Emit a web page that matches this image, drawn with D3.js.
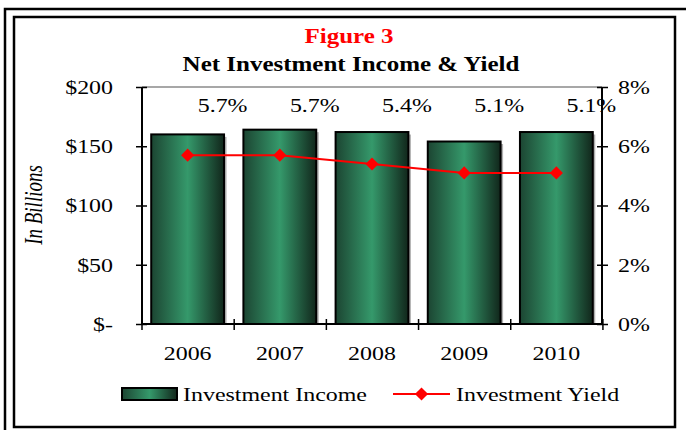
<!DOCTYPE html>
<html>
<head>
<meta charset="utf-8">
<script src="https://cdn.jsdelivr.net/npm/d3@7"></script>
<style>
  body { margin: 0; background: #fff; }
  svg { display: block; font-family: "Liberation Serif", "Times New Roman", serif; }
</style>
</head>
<body>
<div id="chart"></div>
<script>
// chart values
var years = ["2006", "2007", "2008", "2009", "2010"];
var income = [160, 164, 162, 154, 162];      // $ billions
var yieldPct = [5.7, 5.7, 5.4, 5.1, 5.1];    // percent
var incomeTicks = [0, 50, 100, 150, 200];
var yieldTicks = [0, 2, 4, 6, 8];

var W = 686, H = 430;
var sx = 1.33; // text in the original is stretched sideways

var svg = d3.select("#chart").append("svg")
    .attr("width", W).attr("height", H);

var defs = svg.append("defs");
var grad = defs.append("linearGradient").attr("id", "barGrad")
    .attr("x1", "0%").attr("x2", "100%").attr("y1", "0%").attr("y2", "0%");
grad.append("stop").attr("offset", "0%").attr("stop-color", "#1c4532");
grad.append("stop").attr("offset", "50%").attr("stop-color", "#35996b");
grad.append("stop").attr("offset", "100%").attr("stop-color", "#11261b");

// frames
svg.append("rect").attr("x", 5).attr("y", 9).attr("width", 700).attr("height", 440)
    .attr("fill", "none").attr("stroke", "#000").attr("stroke-width", 2.5);
svg.append("rect").attr("x", 14).attr("y", 17).attr("width", 661).attr("height", 410)
    .attr("fill", "#fff").attr("stroke", "#000").attr("stroke-width", 2.5);

// stretched text helper
function txt(g, x, y, s, opts) {
  opts = opts || {};
  var t = g.append("text")
      .attr("transform", "translate(" + x + "," + y + ") scale(" + (opts.sx || sx) + ",1)" + (opts.rot ? " rotate(" + opts.rot + ")" : ""))
      .attr("text-anchor", opts.anchor || "start")
      .attr("font-size", (opts.size || 18) + "px")
      .attr("fill", opts.fill || "#000")
      .text(s);
  if (opts.bold) t.attr("font-weight", "bold");
  if (opts.italic) t.attr("font-style", "italic");
  return t;
}

// titles
txt(svg, 349, 43, "Figure 3", {anchor: "middle", size: 21, sx: 1.19, bold: true, fill: "#ff0000"});
txt(svg, 351, 71, "Net Investment Income & Yield", {anchor: "middle", size: 21, sx: 1.19, bold: true});

var pLeft = 142, pRight = 602, pTop = 87, pBottom = 324;

var x = d3.scaleBand().domain(years).range([pLeft, pRight]).paddingInner(0.21).paddingOuter(0.1);
var y = d3.scaleLinear().domain([0, 200]).range([pBottom, pTop]);
var y2 = d3.scaleLinear().domain([0, 8]).range([pBottom, pTop]);

// top border of plot area
svg.append("line").attr("x1", pLeft).attr("x2", pRight).attr("y1", pTop).attr("y2", pTop)
    .attr("stroke", "#8a8a8a").attr("stroke-width", 1.5);

// bars with shadow
var bars = svg.append("g");
bars.selectAll(".shadow").data(income).enter().append("rect")
    .attr("class", "shadow")
    .attr("x", function(d, i) { return x(years[i]) + 2.5; })
    .attr("y", function(d) { return y(d) + 2.5; })
    .attr("width", x.bandwidth())
    .attr("height", function(d) { return pBottom - y(d) - 2.5; })
    .attr("fill", "#b0b0b0");
bars.selectAll(".bar").data(income).enter().append("rect")
    .attr("class", "bar")
    .attr("x", function(d, i) { return x(years[i]); })
    .attr("y", function(d) { return y(d); })
    .attr("width", x.bandwidth())
    .attr("height", function(d) { return pBottom - y(d); })
    .attr("fill", "url(#barGrad)")
    .attr("stroke", "#000").attr("stroke-width", 2);

function styleTicks(g) {
  g.attr("font-family", null).attr("font-size", null);
  g.selectAll(".tick text")
      .attr("transform", "scale(" + sx + ",1)")
      .attr("font-size", "18px").attr("fill", "#000");
}

// left axis
var ax = svg.append("g").attr("transform", "translate(" + pLeft + ",0)")
    .call(d3.axisLeft(y).tickValues(incomeTicks).tickSize(0).tickSizeOuter(0)
      .tickFormat(function(d) { return d === 0 ? "$-" : "$" + d; }));
ax.select(".domain").attr("stroke", "#000").attr("stroke-width", 2).attr("d", "M0," + pTop + "V" + pBottom);
ax.selectAll(".tick line").attr("x1", -6).attr("x2", 5).attr("stroke", "#000").attr("stroke-width", 1.5);
styleTicks(ax);
ax.selectAll(".tick text").attr("x", -29 / sx).attr("dy", "0.36em");

// right axis
var ax2 = svg.append("g").attr("transform", "translate(" + pRight + ",0)")
    .call(d3.axisRight(y2).tickValues(yieldTicks).tickSize(0).tickSizeOuter(0)
      .tickFormat(function(d) { return d + "%"; }));
ax2.select(".domain").attr("stroke", "#000").attr("stroke-width", 2).attr("d", "M0," + pTop + "V" + pBottom);
ax2.selectAll(".tick line").attr("x1", -5).attr("x2", 6).attr("stroke", "#000").attr("stroke-width", 1.5);
styleTicks(ax2);
ax2.selectAll(".tick text").attr("x", 16 / sx).attr("dy", "0.36em");

// bottom axis
var axb = svg.append("g").attr("transform", "translate(0," + pBottom + ")")
    .call(d3.axisBottom(x).tickSize(0).tickSizeOuter(0));
axb.select(".domain").attr("stroke", "#000").attr("stroke-width", 2).attr("d", "M" + pLeft + ",0H" + pRight);
styleTicks(axb);
axb.selectAll(".tick text").attr("y", 36).attr("dy", 0);
var bounds = d3.range(years.length + 1).map(function(i) { return pLeft + i * x.step(); });
axb.selectAll(".bound").data(bounds).enter().append("line")
    .attr("x1", function(d) { return d; }).attr("x2", function(d) { return d; })
    .attr("y1", -5).attr("y2", 6)
    .attr("stroke", "#000").attr("stroke-width", 1.5);

// y axis title
txt(svg, 42, 205, "In Billions", {anchor: "middle", size: 19, sx: 1.3, italic: true, rot: -90});

// yield line
var cx = function(i) { return x(years[i]) + x.bandwidth() / 2; };
var line = d3.line().x(function(d, i) { return cx(i); }).y(function(d) { return y2(d); });
svg.append("path").datum(yieldPct).attr("d", line)
    .attr("fill", "none").attr("stroke", "#ff0000").attr("stroke-width", 2);
var diamond = d3.symbol().type(d3.symbolDiamond2).size(110);
svg.selectAll(".pt").data(yieldPct).enter().append("path")
    .attr("class", "pt")
    .attr("d", diamond)
    .attr("transform", function(d, i) { return "translate(" + cx(i) + "," + y2(d) + ")"; })
    .attr("fill", "#ff0000");

// data labels
yieldPct.forEach(function(v, i) {
  txt(svg, cx(i) + 35, 112, v.toFixed(1) + "%", {anchor: "middle"});
});

// legend
var lg = svg.append("g");
lg.append("rect").attr("x", 122).attr("y", 388).attr("width", 55).attr("height", 12)
    .attr("fill", "url(#barGrad)").attr("stroke", "#000").attr("stroke-width", 2);
txt(lg, 183, 401, "Investment Income");
lg.append("line").attr("x1", 393).attr("x2", 450).attr("y1", 394).attr("y2", 394)
    .attr("stroke", "#ff0000").attr("stroke-width", 2);
lg.append("path").attr("d", diamond).attr("transform", "translate(421.5,394)").attr("fill", "#ff0000");
txt(lg, 456, 401, "Investment Yield");
</script>
</body>
</html>
